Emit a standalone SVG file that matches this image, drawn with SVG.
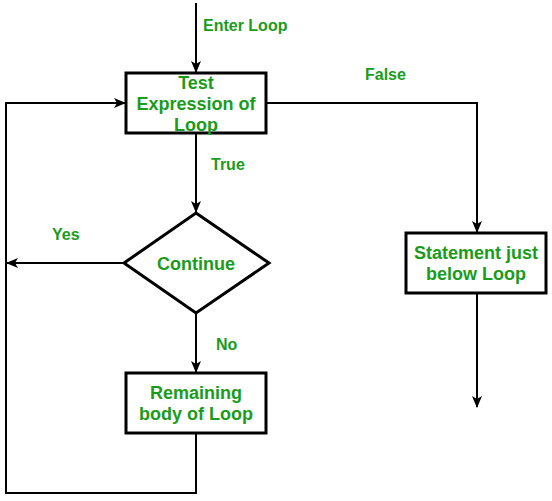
<svg xmlns="http://www.w3.org/2000/svg" width="552" height="501" viewBox="0 0 552 501">
<defs>
<style>
.node{fill:#fff;stroke:#000;stroke-width:3}
.edge{fill:none;stroke:#000;stroke-width:2}
.nt{font-family:"Liberation Sans",Arial,sans-serif;font-weight:bold;font-size:18px;fill:#1a9c1a;text-anchor:middle}
.et{font-family:"Liberation Sans",Arial,sans-serif;font-weight:bold;font-size:16px;fill:#1a9c1a}
</style>
<marker id="arr" viewBox="0 0 12 10" refX="11" refY="5" markerWidth="12" markerHeight="10" markerUnits="userSpaceOnUse" orient="auto">
<path d="M0,0 L12,5 L0,10 L3,5 z" fill="#000"/>
</marker>
</defs>
<rect width="552" height="501" fill="#fff"/>
<g id="connectors">
<path class="edge" d="M196,3 V72" marker-end="url(#arr)"/>
<path class="edge" d="M196,134 V212" marker-end="url(#arr)"/>
<path class="edge" d="M124,263 H7" marker-end="url(#arr)"/>
<path class="edge" d="M196,313 V372" marker-end="url(#arr)"/>
<path class="edge" d="M196,434 V493 H6 V103 H125" marker-end="url(#arr)"/>
<path class="edge" d="M267,103 H477 V232" marker-end="url(#arr)"/>
<path class="edge" d="M477,294 V407" marker-end="url(#arr)"/>
<text class="et" x="203" y="31">Enter Loop</text>
<text class="et" x="211" y="170">True</text>
<text class="et" x="52" y="240">Yes</text>
<text class="et" x="216" y="350">No</text>
<text class="et" x="365" y="80">False</text>
</g>
<g id="test">
<rect class="node" x="126" y="73" width="140" height="60"/>
<text class="nt" x="196" y="89">Test</text>
<text class="nt" x="196" y="110">Expression of</text>
<text class="nt" x="196" y="131">Loop</text>
</g>
<g id="continue">
<polygon class="node" points="196,213 269,263 196,313 124,263"/>
<text class="nt" x="196" y="270">Continue</text>
</g>
<g id="remaining">
<rect class="node" x="126" y="373" width="140" height="60"/>
<text class="nt" x="196" y="399">Remaining</text>
<text class="nt" x="196" y="420">body of Loop</text>
</g>
<g id="statement">
<rect class="node" x="406" y="233" width="140" height="60"/>
<text class="nt" x="476" y="259">Statement just</text>
<text class="nt" x="476" y="280">below Loop</text>
</g>
</svg>
